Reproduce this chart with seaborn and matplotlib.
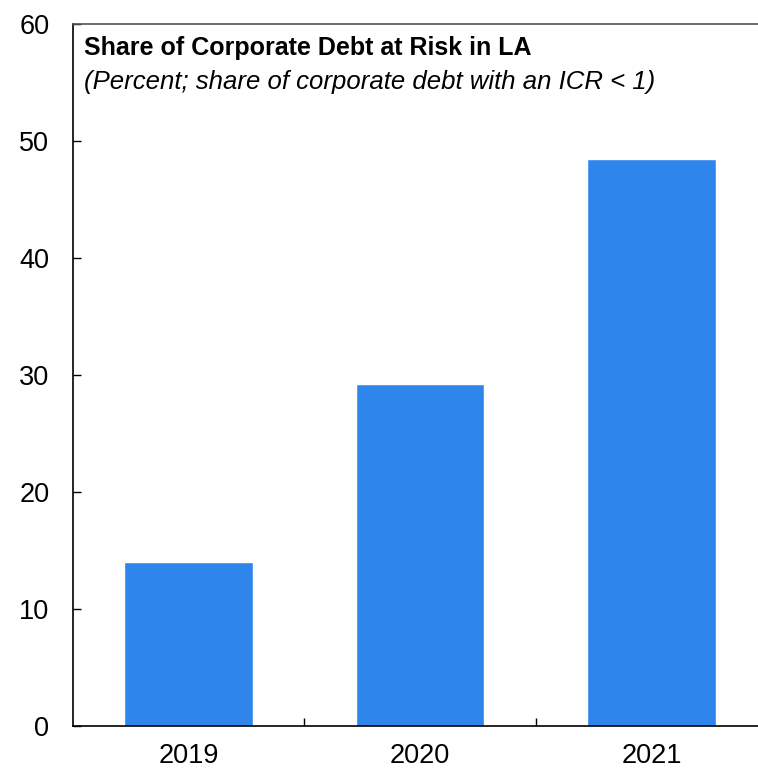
import numpy as np
import pandas as pd
import matplotlib
matplotlib.use("Agg")
import matplotlib.pyplot as plt
import seaborn as sns

# Data
years = ["2019", "2020", "2021"]
share_at_risk = [14.0, 29.2, 48.5]

title = "Share of Corporate Debt at Risk in LA"
subtitle = "(Percent; share of corporate debt with an ICR < 1)"
bar_color = "#2E86EC"

sns.set_theme(style="white")
plt.rcParams["font.family"] = ["Liberation Sans", "DejaVu Sans"]

df = pd.DataFrame({"year": years, "share": share_at_risk})

fig = plt.figure(figsize=(7.58, 7.68), dpi=100)
ax = fig.add_axes([73 / 758, 1 - 726 / 768, 1 - 73 / 758, (726 - 24) / 768])

sns.barplot(data=df, x="year", y="share", color=bar_color, width=0.555,
            saturation=1, ax=ax)

ax.set_ylim(0, 60)
ax.set_xlim(-0.5, 2.46)
ax.set_yticks(np.arange(0, 61, 10))
# separators between categories
ax.set_xticks([0.5, 1.5], minor=True)
ax.set_xlabel("")
ax.set_ylabel("")

ax.tick_params(axis="y", direction="in", length=6, width=1, color="black",
               labelsize=19.5, pad=17, left=True)
ax.tick_params(axis="x", which="major", length=0, labelsize=19.5, pad=12)
ax.tick_params(axis="x", which="minor", direction="in", length=6, width=1,
               color="black", bottom=True)
for lbl in ax.get_yticklabels() + ax.get_xticklabels():
    lbl.set_color("black")

ax.spines["right"].set_visible(False)
ax.spines["left"].set_color("black")
ax.spines["bottom"].set_color("black")
ax.spines["top"].set_color("#555555")
for s in ["left", "bottom", "top"]:
    ax.spines[s].set_linewidth(1.2)

ax.text(0.016, 0.983, title, transform=ax.transAxes, fontsize=18,
        fontweight="bold", ha="left", va="top", color="black")
ax.text(0.016, 0.934, subtitle, transform=ax.transAxes, fontsize=18.5,
        fontstyle="italic", ha="left", va="top", color="black")

fig.savefig("out.png", dpi=100)
